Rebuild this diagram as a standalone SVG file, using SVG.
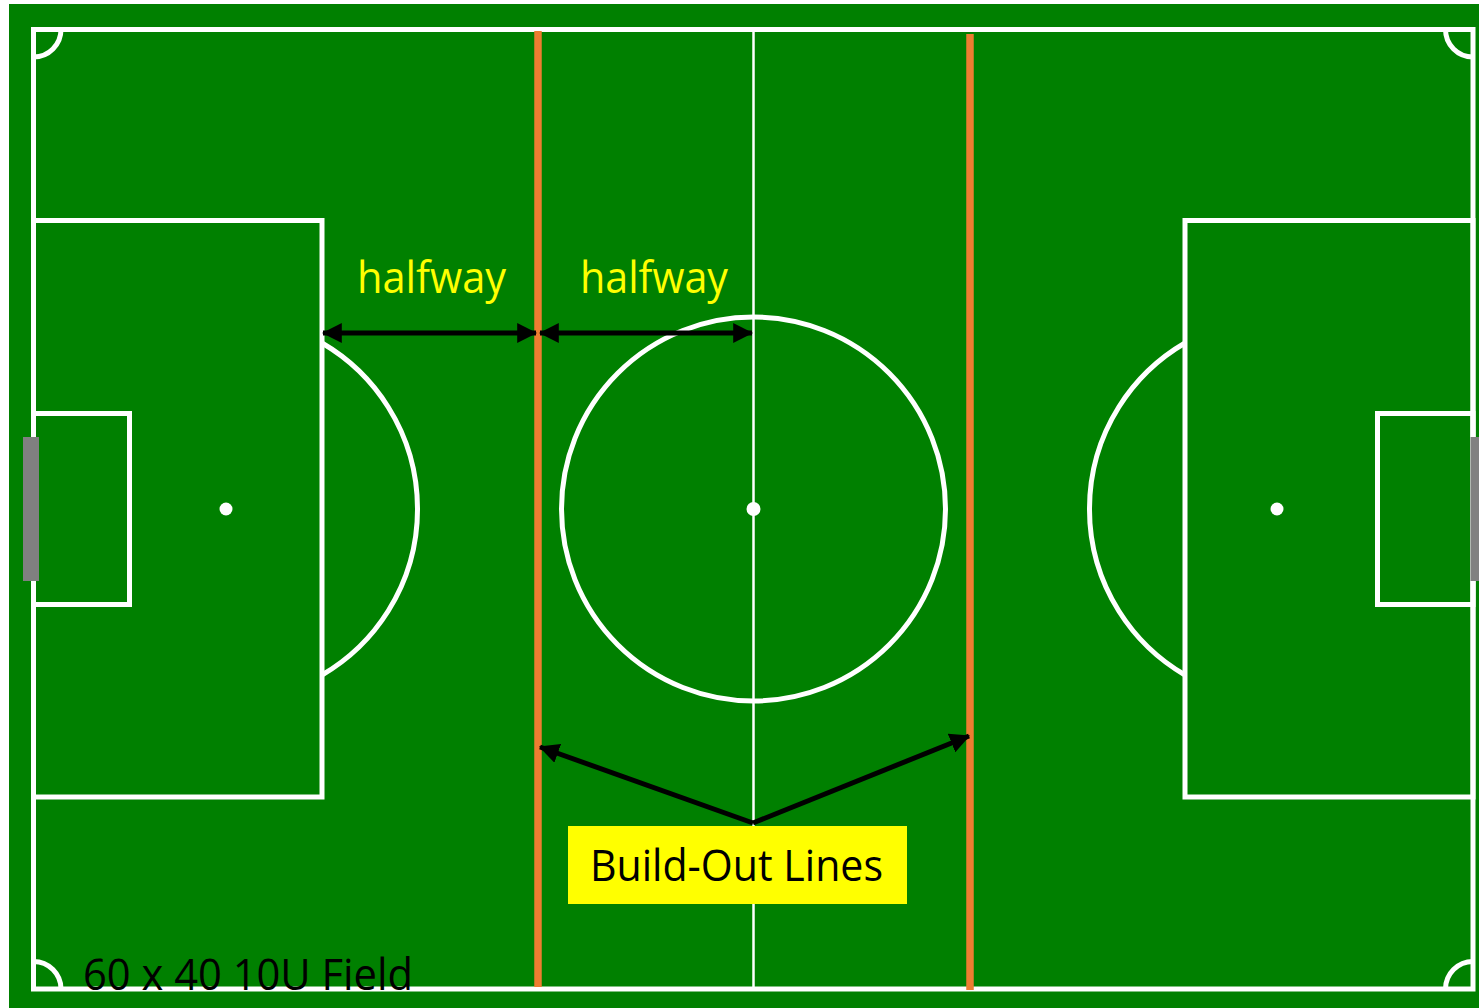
<svg xmlns="http://www.w3.org/2000/svg" width="1479" height="1008" viewBox="0 0 1479 1008">
<style>
.ln{fill:none;stroke:#fff;stroke-width:5}
.spot{fill:#fff}
.bo{stroke:#ED7D31;stroke-width:7.5}
.goal{fill:#808080}
.arr{stroke:#000;stroke-width:5;fill:none}
.t{font-family:"Open Sans","Liberation Sans",sans-serif;font-size:43px}
</style>
<defs>
<marker id="ah" markerUnits="userSpaceOnUse" markerWidth="20" markerHeight="20" viewBox="0 0 17 17" refX="16" refY="8.5" orient="auto-start-reverse">
<path d="M0,0 L17,8.5 L0,17 Z" fill="#000"/>
</marker>
</defs>
<rect x="0" y="0" width="1479" height="1008" fill="#fff"/>
<rect x="9" y="4" width="1470" height="1004" fill="#008000"/>
<g id="field">
<rect class="ln" x="33.5" y="29.5" width="1439.5" height="959.5"/>
<path class="ln" d="M33.5,57 A27.5,27.5 0 0 0 61,29.5"/>
<path class="ln" d="M1445.5,29.5 A27.5,27.5 0 0 0 1473,57"/>
<path class="ln" d="M33.5,961.5 A27.5,27.5 0 0 1 61,989"/>
<path class="ln" d="M1445.5,989 A27.5,27.5 0 0 1 1473,961.5"/>
<line x1="753.5" y1="29.5" x2="753.5" y2="989" stroke="#fff" stroke-width="2.5"/>
<circle class="ln" cx="753.5" cy="509" r="192"/>
<circle class="spot" cx="753.5" cy="509" r="7"/>
</g>
<g id="left-penalty">
<rect class="ln" x="33.5" y="220.5" width="288.5" height="576.5"/>
<rect class="ln" x="33.5" y="413.5" width="96" height="191"/>
<path class="ln" d="M322,343 A192,192 0 0 1 322,675"/>
<circle class="spot" cx="226" cy="509" r="6.5"/>
<rect class="goal" x="23" y="437" width="16" height="144"/>
</g>
<g id="right-penalty">
<rect class="ln" x="1185" y="220.5" width="288" height="576.5"/>
<rect class="ln" x="1377.5" y="413.5" width="95.5" height="191"/>
<path class="ln" d="M1185,343 A192,192 0 0 0 1185,675"/>
<circle class="spot" cx="1277" cy="509" r="6.5"/>
<rect class="goal" x="1470.5" y="437" width="9" height="144"/>
</g>
<g id="build-out-lines">
<line class="bo" x1="538" y1="31" x2="538" y2="987"/>
<line class="bo" x1="970" y1="34" x2="970" y2="990"/>
</g>
<g id="connectors">
<line class="arr" x1="323" y1="333" x2="536" y2="333" marker-start="url(#ah)" marker-end="url(#ah)"/>
<line class="arr" x1="540" y1="333" x2="752" y2="333" marker-start="url(#ah)" marker-end="url(#ah)"/>
<line class="arr" x1="753" y1="823" x2="540" y2="747" marker-end="url(#ah)"/>
<line class="arr" x1="753" y1="823" x2="969" y2="736" marker-end="url(#ah)"/>
</g>
<g id="label-halfway-1">
<text class="t" x="357" y="293" fill="#FFFF00" textLength="149" lengthAdjust="spacingAndGlyphs">halfway</text>
</g>
<g id="label-halfway-2">
<text class="t" x="580" y="293" fill="#FFFF00" textLength="148" lengthAdjust="spacingAndGlyphs">halfway</text>
</g>
<g id="label-build-out">
<rect x="568" y="826" width="339" height="78" fill="#FFFF00"/>
<text class="t" x="590" y="881" fill="#000" textLength="293" lengthAdjust="spacingAndGlyphs">Build-Out Lines</text>
</g>
<g id="label-field">
<text class="t" x="83" y="990" fill="#000" textLength="330" lengthAdjust="spacingAndGlyphs">60 x 40 10U Field</text>
</g>
</svg>
